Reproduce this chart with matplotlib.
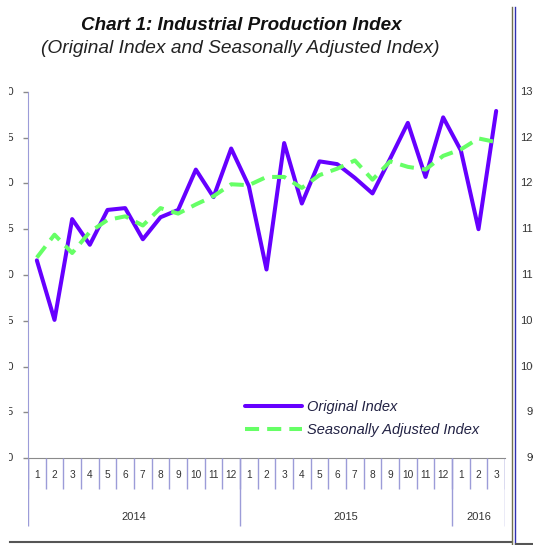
import matplotlib
matplotlib.use('Agg')
import matplotlib.pyplot as plt
from matplotlib.transforms import blended_transform_factory, Bbox, TransformedBbox
from matplotlib.lines import Line2D

# ---- data ----
months = [1, 2, 3, 4, 5, 6, 7, 8, 9, 10, 11, 12,
          1, 2, 3, 4, 5, 6, 7, 8, 9, 10, 11, 12,
          1, 2, 3]
years = ['2014', '2015', '2016']
year_counts = [12, 12, 3]
original = [111.6, 105.1, 116.1, 113.3, 117.1, 117.3, 113.9, 116.3, 117.1,
            121.5, 118.5, 123.8, 119.7, 110.6, 124.4, 117.8, 122.4, 122.1,
            120.6, 118.9, 122.7, 126.6, 120.7, 127.2, 123.6, 115.0, 127.9]
seasonal = [111.9, 114.4, 112.4, 114.7, 116.0, 116.4, 115.4, 117.3, 116.7,
            117.7, 118.6, 119.9, 119.8, 120.7, 120.7, 119.5, 120.9, 121.6,
            122.5, 120.4, 122.4, 121.8, 121.5, 123.0, 123.7, 124.9, 124.5]
y_ticks = [90, 95, 100, 105, 110, 115, 120, 125, 130]
right_ticks = [90, 95, 100, 105, 110, 115, 120, 125, 130]
title = 'Chart 1: Industrial Production Index'
subtitle = '(Original Index and Seasonally Adjusted Index)'
legend_labels = ['Original Index', 'Seasonally Adjusted Index']

FONT = 'Liberation Sans'
W, H = 533, 545
fig = plt.figure(figsize=(W / 100, H / 100), dpi=100)
fig.patch.set_facecolor('white')


def fx(px):
    return px / W


def fy(py):
    return 1 - py / H


AX_L, AX_R, AX_T, AX_B = 28, 505, 91.7, 458.3
ax = fig.add_axes([fx(AX_L), fy(AX_B), (AX_R - AX_L) / W, (AX_B - AX_T) / H])
ax.set_facecolor('none')
x = list(range(len(months)))
l1, = ax.plot(x, original, color='#6600FF', lw=2.9, solid_joinstyle='round',
              solid_capstyle='round', clip_on=False, zorder=3)
l2, = ax.plot(x, seasonal, color='#66FF66', lw=2.9, dashes=(3.5, 2.0),
              dash_capstyle='butt', dash_joinstyle='round', clip_on=False, zorder=4)
ax.set_xlim(-0.5, len(months) - 0.5)
ax.set_ylim(y_ticks[0], y_ticks[-1])
ax.set_yticks(y_ticks)
ax.set_yticklabels([])
ax.set_xticks([])
ax.tick_params(axis='y', direction='out', length=3.6, width=1, color='#8a8a8a')
for s in ['top', 'right']:
    ax.spines[s].set_visible(False)
ax.spines['left'].set_color('#9c9cd8')
ax.spines['bottom'].set_color('#8a8a8a')

# left tick labels (clipped at the screenshot edge)
trans = blended_transform_factory(fig.transFigure, ax.transData)
clipbox = TransformedBbox(Bbox([[fx(9), 0], [1, 1]]), fig.transFigure)
for v in y_ticks:
    t = fig.text(fx(13.5), v, str(v), transform=trans, ha='right', va='center',
                 fontsize=8, color='#333333', family=FONT)
    t.set_clip_box(clipbox)
    t.set_clip_on(True)

# neighbouring chart axis labels on the right (cut by the image edge)
for v in right_ticks:
    fig.text(fx(539), v, str(v), transform=trans, ha='right', va='center',
             fontsize=8, color='#333333', family=FONT)

# category table under the axis
ax_t = fig.add_axes([fx(AX_L), fy(527), (AX_R - AX_L) / W, (527 - AX_B) / H])
ax_t.set_xlim(0, len(months))
ax_t.set_ylim(527, AX_B)
ax_t.axis('off')
n = len(months)
ax_t.vlines(range(n + 1), AX_B, 489, color='#9c9cd8', lw=1)
bounds = [0]
for c in year_counts:
    bounds.append(bounds[-1] + c)
ax_t.vlines(bounds, AX_B, 526, color='#9c9cd8', lw=1)
for i, m in enumerate(months):
    ax_t.text(i + 0.5, 475.5, str(m), ha='center', va='center', fontsize=7.3,
              color='#333333', family=FONT)
for yr, b0, c in zip(years, bounds[:-1], year_counts):
    ax_t.text(b0 + c / 2, 517, yr, ha='center', va='center', fontsize=8,
              color='#333333', family=FONT)

# titles
fig.text(fx(241), fy(25.5), title, ha='center', va='center', fontsize=13.6,
         fontweight='bold', fontstyle='italic', color='#111111', family=FONT)
fig.text(fx(240), fy(48.5), subtitle, ha='center', va='center', fontsize=13.8,
         fontstyle='italic', color='#222222', family=FONT)

# legend
leg = fig.legend([l1, l2], legend_labels, loc='upper left',
                 bbox_to_anchor=(fx(245), fy(400.5)), frameon=False,
                 prop={'family': FONT, 'style': 'italic', 'size': 10.5},
                 handlelength=3.9, handletextpad=0.34, labelspacing=0.575,
                 borderpad=0, borderaxespad=0)
for txt in leg.get_texts():
    txt.set_color('#222244')

# frame lines of the screenshot
fig.add_artist(Line2D([fx(10), fx(512)], [fy(541.5), fy(541.5)], color='#555555', lw=1.5))
fig.add_artist(Line2D([fx(511.5), fx(511.5)], [fy(7), fy(545)], color='#707050', lw=1))
fig.add_artist(Line2D([fx(514.5), fx(514.5)], [fy(7), fy(545)], color='#3030b0', lw=1))
fig.add_artist(Line2D([fx(516), fx(533)], [fy(543.5), fy(543.5)], color='#555555', lw=1.5))

fig.savefig('out.png', dpi=100, facecolor='white')
